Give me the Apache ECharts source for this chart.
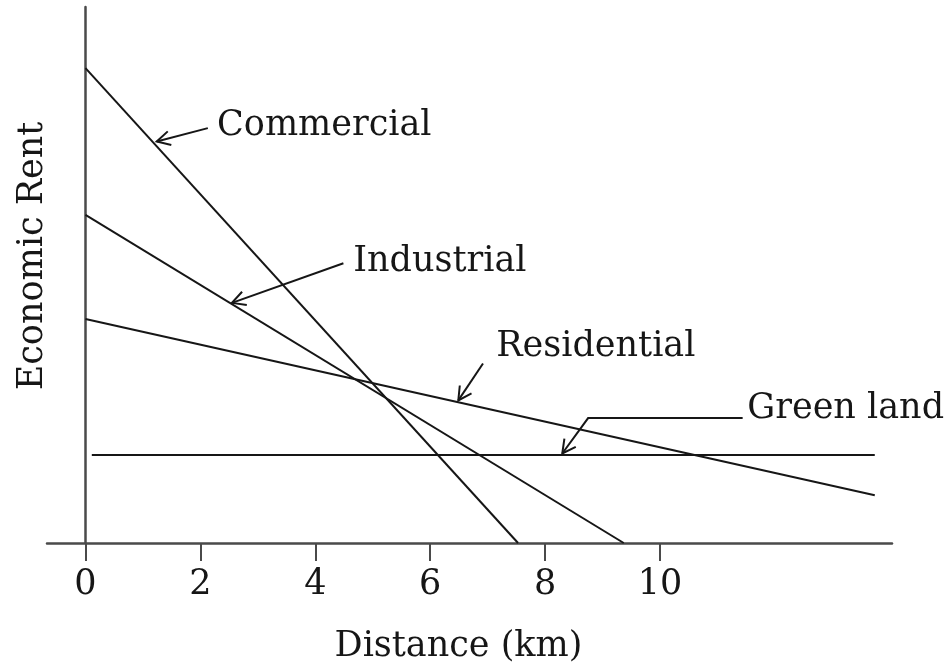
<!DOCTYPE html>
<html><head><meta charset="utf-8">
<script src="https://cdn.jsdelivr.net/npm/echarts@6/dist/echarts.min.js"></script>
<style>html,body{margin:0;padding:0;background:#fff}#c{width:952px;height:671px}</style>
</head><body><div id="c"></div>
<script>
// ---- data ----
const xTicks = [0, 2, 4, 6, 8, 10];
const seriesNames = ['Commercial', 'Industrial', 'Residential', 'Green land'];
const commercial = [[0, 8.86], [7.53, 0]];
const industrial = [[0, 6.12], [9.37, 0]];
const residential = [[0, 4.18], [13.74, 0.89]];
const greenLand = [[0.11, 1.64], [13.74, 1.64]];

// ---- annotations (label anchor + leader path in data units) ----
const notes = [
  { text: 'Commercial', at: [2.29, 7.79], path: [[2.13, 7.74], [1.24, 7.49]] },
  { text: 'Industrial', at: [4.66, 5.24], path: [[4.49, 5.22], [2.55, 4.48]] },
  { text: 'Residential', at: [7.15, 3.65], path: [[6.92, 3.35], [6.49, 2.66]] },
  { text: 'Green land', at: [11.52, 2.51], path: [[11.44, 2.33], [8.75, 2.33], [8.30, 1.67]] }
];

const FONT = '"DejaVu Serif", "Liberation Serif", serif';
const INK = '#161616';
const AXIS = '#4a4a4a';

const chart = echarts.init(document.getElementById('c'), null, { renderer: 'canvas' });
const lineSeries = [commercial, industrial, residential, greenLand].map((d, i) => ({
  name: seriesNames[i], type: 'line', data: d, symbol: 'none', silent: true,
  lineStyle: { color: INK, width: 2 }, animation: false
}));

chart.setOption({
  animation: false,
  backgroundColor: '#fff',
  grid: { left: 47, right: 60, top: 7, bottom: 128, containLabel: false, outerBoundsMode: 'none' },
  xAxis: {
    type: 'value', min: -0.67, max: 14.04,
    axisLine: { onZero: true, lineStyle: { color: AXIS, width: 2.5 } },
    axisTick: { show: true, customValues: xTicks, length: 18, lineStyle: { color: AXIS, width: 2 } },
    axisLabel: { customValues: xTicks, margin: 24, color: INK, fontFamily: FONT, fontSize: 35 },
    splitLine: { show: false },
    name: 'Distance (km)', nameLocation: 'middle', nameGap: 86,
    nameTextStyle: { color: INK, fontFamily: FONT, fontSize: 35, padding: [0, 22, 0, 0] }
  },
  yAxis: {
    type: 'value', min: 0, max: 10,
    axisLine: { show: true, onZero: true, lineStyle: { color: AXIS, width: 2.5 } },
    axisTick: { show: false }, axisLabel: { show: false }, splitLine: { show: false },
    name: 'Economic Rent', nameLocation: 'middle', nameGap: -3,
    nameTextStyle: { color: INK, fontFamily: FONT, fontSize: 35, padding: [0, 0, 0, 38] }
  },
  series: lineSeries
});

function px(p) { return chart.convertToPixel({ gridIndex: 0 }, p); }
const graphics = [];
notes.forEach(n => {
  const pts = n.path.map(px);
  graphics.push({ type: 'polyline', silent: true, shape: { points: pts },
    style: { stroke: INK, lineWidth: 2, fill: null } });
  const tip = pts[pts.length - 1], prev = pts[pts.length - 2];
  let dx = tip[0] - prev[0], dy = tip[1] - prev[1];
  const len = Math.hypot(dx, dy); dx /= len; dy /= len;
  const L = 15, a = 28 * Math.PI / 180;
  const w = s => [tip[0] - L * (dx * Math.cos(s * a) - dy * Math.sin(s * a)),
                  tip[1] - L * (dx * Math.sin(s * a) + dy * Math.cos(s * a))];
  graphics.push({ type: 'polyline', silent: true, shape: { points: [w(1), tip, w(-1)] },
    style: { stroke: INK, lineWidth: 2, fill: null } });
  const t = px(n.at);
  graphics.push({ type: 'text', silent: true, x: t[0], y: t[1],
    style: { text: n.text, fontFamily: FONT, fontSize: 35, fill: INK, align: 'left', verticalAlign: 'middle' } });
});
chart.setOption({ graphic: graphics });
</script>
</body></html>
